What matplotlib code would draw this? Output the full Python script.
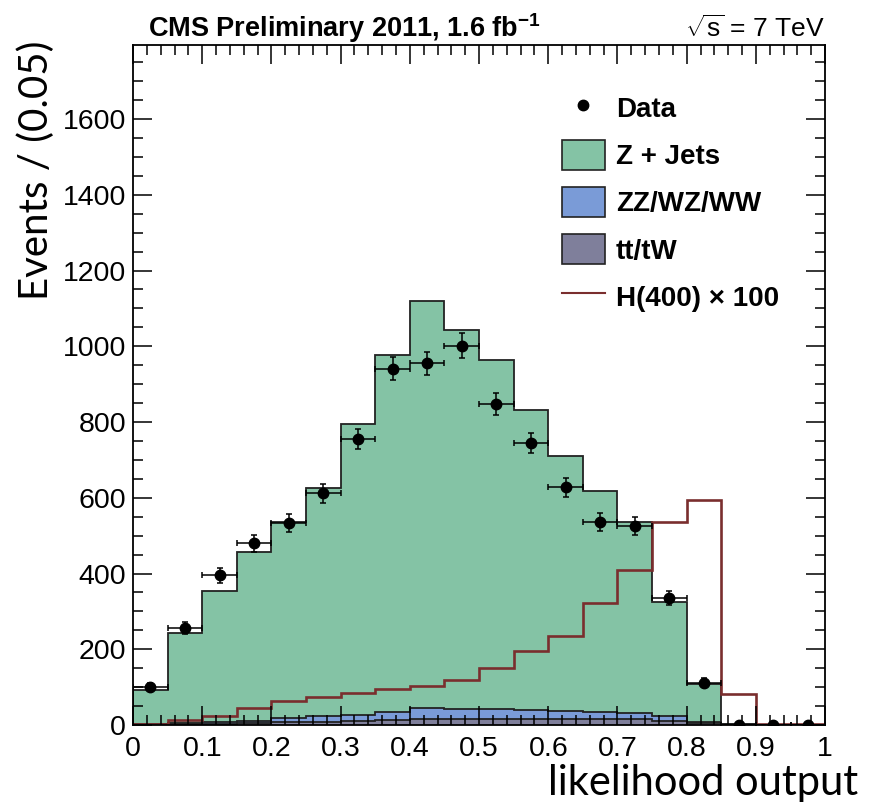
import numpy as np
import matplotlib

matplotlib.use("Agg")
import matplotlib.pyplot as plt  # noqa: E402
from matplotlib.lines import Line2D  # noqa: E402
from matplotlib.patches import Patch  # noqa: E402
from matplotlib.ticker import MultipleLocator, FuncFormatter  # noqa: E402

# binning of the likelihood output
bin_edges = np.linspace(0.0, 1.0, 21)

# stacked backgrounds (bottom to top)
ttbar = [1, 2, 3, 4, 7, 9, 11, 13, 17, 17, 16, 16, 16, 16, 16, 11, 4, 1, 0, 0]
diboson = [1, 2, 4, 7, 11, 14, 16, 22, 27, 25, 26, 23, 22, 18, 16, 12, 4, 1, 0, 0]
zjets = [91, 240, 346, 447, 517, 604, 768, 943, 1076, 1002, 922, 792, 673, 585, 504, 303, 99, 1, 0, 0]

data = [101, 257, 395, 480, 533, 612, 755, 941, 955, 1002, 847, 744, 628, 536, 526, 335, 112, 1, 0, 0]
data_err = [10, 16, 20, 22, 23, 25, 27, 31, 31, 32, 29, 27, 25, 23, 23, 18, 11, 1, 0, 0]

higgs_x100 = [3, 14, 25, 46, 63, 74, 84, 96, 102, 119, 150, 196, 234, 321, 408, 536, 594, 82, 3, 2]

GREEN = "#84c3a5"
BLUE = "#7a9bd7"
GREY = "#7f7f9b"
RED = "#7a2e2e"

plt.rcParams["font.family"] = ["Liberation Sans", "DejaVu Sans"]
plt.rcParams["mathtext.fontset"] = "custom"
plt.rcParams["mathtext.rm"] = "Liberation Sans"
plt.rcParams["mathtext.bf"] = "Liberation Sans:bold"
plt.rcParams["mathtext.default"] = "regular"

fig = plt.figure(figsize=(8.75, 8.07), dpi=100)
ax = fig.add_axes([0.152, 0.1016, 0.791, 0.8424])

centers = 0.5 * (bin_edges[:-1] + bin_edges[1:])
half_w = 0.5 * np.diff(bin_edges)

lvl1 = np.array(ttbar)
lvl2 = lvl1 + np.array(diboson)
lvl3 = lvl2 + np.array(zjets)

# ROOT-style stack: each cumulative histogram drawn from zero, top one first
ax.stairs(lvl3, bin_edges, fill=True, facecolor=GREEN, edgecolor="#222222", lw=1.3)
ax.stairs(lvl2, bin_edges, fill=True, facecolor=BLUE, edgecolor="#222222", lw=1.3)
ax.stairs(lvl1, bin_edges, fill=True, facecolor=GREY, edgecolor="#222222", lw=1.3)

ax.stairs(higgs_x100, bin_edges, color=RED, lw=1.9)

ax.errorbar(centers, data, yerr=data_err, xerr=half_w, fmt="o", color="black",
            ms=7.5, elinewidth=1.1, capsize=2.2, capthick=1.1, zorder=5)

ax.set_xlim(0, 1)
ax.set_ylim(0, 1795)

ax.xaxis.set_major_locator(MultipleLocator(0.1))
ax.xaxis.set_minor_locator(MultipleLocator(0.02))
ax.yaxis.set_major_locator(MultipleLocator(200))
ax.yaxis.set_minor_locator(MultipleLocator(50))
ax.xaxis.set_major_formatter(FuncFormatter(lambda v, _: f"{v:g}"))
ax.tick_params(which="both", direction="in", top=True, right=True, width=1.1)
ax.tick_params(which="major", length=14, labelsize=20.5)
ax.tick_params(which="minor", length=7)
ax.tick_params(axis="x", pad=8)
ax.tick_params(axis="y", pad=5)
for s in ax.spines.values():
    s.set_linewidth(1.3)

ax.set_xlabel("likelihood output", family=["Lato", "DejaVu Sans"], fontsize=30,
              loc="right", labelpad=0)
ax.xaxis.set_label_coords(1.048, -0.057, transform=ax.transAxes)
ax.xaxis.label.set_va("top")
ax.set_ylabel("Events / (0.05)", family=["Lato", "DejaVu Sans"], fontsize=29,
              loc="top")
ax.yaxis.set_label_coords(-0.112, 1.007)
ax.yaxis.label.set_va("bottom")

fig.text(0.169, 0.965, r"CMS Preliminary 2011, 1.6 fb$^{-1}$", fontsize=19.5,
         fontweight="bold", va="center", ha="left")
fig.text(0.943, 0.965, r"$\sqrt{s}$ = 7 TeV", fontsize=19, va="center", ha="right")

handles = [
    Line2D([], [], marker="o", color="black", ls="none", ms=7.5),
    Patch(facecolor=GREEN, edgecolor="#222222", lw=1.2),
    Patch(facecolor=BLUE, edgecolor="#222222", lw=1.2),
    Patch(facecolor=GREY, edgecolor="#222222", lw=1.2),
    Line2D([], [], color=RED, lw=1.5),
]
labels = ["Data", "Z + Jets", "ZZ/WZ/WW", "tt/tW", "H(400) \u00d7 100"]
ax.legend(handles, labels, loc="upper left", bbox_to_anchor=(0.642, 0.885),
          bbox_transform=fig.transFigure, frameon=False, borderpad=0,
          borderaxespad=0, handlelength=1.55, handleheight=1.3,
          labelspacing=0.6, handletextpad=0.4,
          prop={"weight": "bold", "size": 20})

fig.savefig("out.png", dpi=100)
